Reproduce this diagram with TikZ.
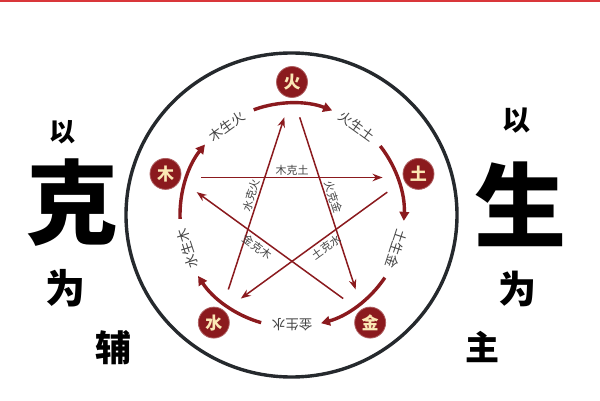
\documentclass[tikz,border=0pt]{standalone}
\usepackage{fontspec}
\newfontfamily\cjk{Noto Sans CJK SC}
\usetikzlibrary{arrows.meta,calc}
\definecolor{dred}{HTML}{8B1A1E}
\definecolor{cream}{HTML}{FBE8B5}
\definecolor{ring}{HTML}{25292D}
\definecolor{lbl}{HTML}{454545}
\definecolor{topred}{HTML}{D9363A}
\begin{document}
\begin{tikzpicture}[x=1pt,y=1pt,
  elem/.style={circle,fill=dred,draw=dred!70!white,line width=0.8pt,minimum size=31pt,inner sep=0pt,text=cream,font=\cjk\bfseries\fontsize{17}{17}\selectfont},
  sheng/.style={draw=dred,line width=3.4pt,-{Triangle[length=9pt,width=9.5pt]}},
  ke/.style={draw=dred,line width=1.5pt,-{Stealth[length=10pt,width=7.5pt]}},
  shenglbl/.style={text=lbl,font=\cjk\fontsize{13.5}{13.5}\selectfont,inner sep=0pt},
  kelbl/.style={text=lbl,font=\cjk\fontsize{11}{11}\selectfont,inner sep=1.5pt,sloped},
  callig/.style={font=\cjk\bfseries,text=black,inner sep=0pt}
]
\useasboundingbox (0,0) rectangle (600,400);
\fill[white] (0,0) rectangle (600,400);
\fill[topred] (0,397.5) rectangle (600,400);
\coordinate (c) at (292,185);
\draw[ring,line width=3.4pt] (291.5,185) ellipse[x radius=165.5,y radius=162];

% sheng arcs
\foreach \a in {90,18,-54,-126,162}{
  \draw[sheng] ($(c)+(\a+20:112)$) arc[start angle=\a+20,end angle=\a-21,radius=112];
}
\node[shenglbl,rotate=36]   (s1) at ($(c)+(126:110)$) {木生火};
\node[shenglbl,rotate=-36]  (s2) at ($(c)+(54:110)$)  {火生土};
\node[shenglbl,rotate=-108] (s3) at ($(c)+(-18:110)$) {土生金};
\node[shenglbl,rotate=180]  (s4) at ($(c)+(-90:110)$) {金生水};
\node[shenglbl,rotate=108]  (s5) at ($(c)+(198:110)$) {水生木};

% star end points
\foreach \n/\a in {fire/90,earth/18,metal/-54,water/-126,wood/162}{
  \coordinate (\n-out) at ($(c)+(\a-4.5:98)$);
  \coordinate (\n-in)  at ($(c)+(\a+4.5:98)$);
}
\draw[ke] (wood-out)  -- node[kelbl,above,pos=0.5]   (k1) {木克土} (earth-in);
\draw[ke] (water-out) -- node[kelbl,above,pos=0.535] (k2) {水克火} (fire-in);
\draw[ke] (fire-out)  -- node[kelbl,above,pos=0.476] (k3) {火克金} (metal-in);
\draw[ke] (metal-out) -- node[kelbl,below,inner sep=3pt,pos=0.55]  (k4) {金克木} (wood-in);
\draw[ke] (earth-out) -- node[kelbl,below,inner sep=3pt,pos=0.45]  (k5) {土克水} (water-in);

% elements
\node[elem] (fire)  at ($(c)+(90:133)$)   {火};
\node[elem] (earth) at ($(c)+(18:133)$)   {土};
\node[elem] (metal) at ($(c)+(-54:133)$)  {金};
\node[elem] (water) at ($(c)+(-126:133)$) {水};
\node[elem] (wood)  at ($(c)+(162:133)$)  {木};

% side calligraphy
\node[callig,font=\cjk\bfseries\fontsize{26}{26}\selectfont] (L1) at (62,268) {以};
\node[callig,font=\cjk\bfseries\fontsize{92}{92}\selectfont] (L2) at (72,197) {克};
\node[callig,font=\cjk\bfseries\fontsize{40}{40}\selectfont] (L3) at (65,112) {为};
\node[callig,font=\cjk\bfseries\fontsize{36}{36}\selectfont] (L4) at (113,52) {辅};
\node[callig,font=\cjk\bfseries\fontsize{28}{28}\selectfont] (R1) at (516,279) {以};
\node[callig,font=\cjk\bfseries\fontsize{92}{92}\selectfont] (R2) at (520,196) {生};
\node[callig,font=\cjk\bfseries\fontsize{38}{38}\selectfont] (R3) at (517,111) {为};
\node[callig,font=\cjk\bfseries\fontsize{34}{34}\selectfont] (R4) at (482,53) {主};
\end{tikzpicture}
\end{document}
